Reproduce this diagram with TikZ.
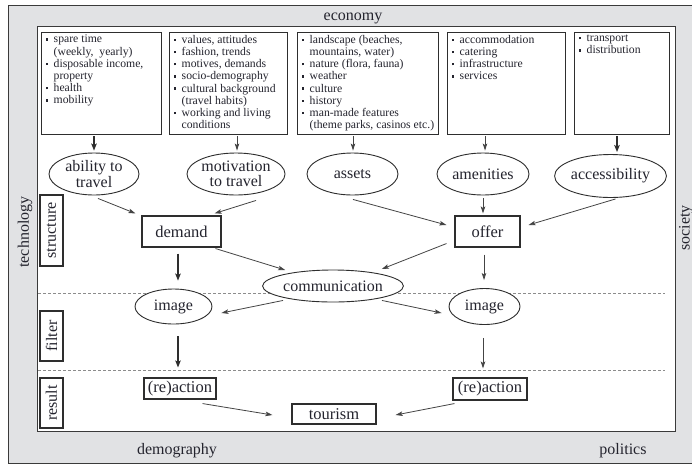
\documentclass[tikz,border=0pt]{standalone}
\usepackage{fontspec}
\usepackage{graphicx}
\setmainfont{Liberation Serif}
\usetikzlibrary{arrows.meta,shapes.geometric,calc}
\definecolor{bggray}{HTML}{E1E2E4}
\definecolor{framec}{HTML}{3A3A3A}
\definecolor{txt}{HTML}{24242E}
\definecolor{linec}{HTML}{2E2E2E}
\definecolor{arrc}{HTML}{444444}
\definecolor{dashc}{HTML}{8C8C8C}
\newcommand{\bl}{\makebox[8.5pt][l]{\hspace*{0.5pt}\raisebox{2.4pt}{\rule{2.4pt}{2.4pt}}}}
\newcommand{\cn}{\hspace*{8.5pt}}
\begin{document}
\begin{tikzpicture}[x=1pt,y=-1pt,
  every node/.style={text=txt},
  topbox/.style={rectangle, draw=linec, line width=1.3pt, fill=white, inner sep=0pt, anchor=north west, minimum height=102pt},
  listtext/.style={anchor=north west, inner sep=0pt, align=left, font=\fontsize{11.7}{12.2}\selectfont},
  ell/.style={ellipse, draw=linec, line width=0.9pt, fill=white, inner sep=0pt, align=center, font=\fontsize{16}{15.5}\selectfont},
  rbox/.style={rectangle, draw=linec, line width=1.1pt, fill=white, inner sep=0pt, font=\fontsize{16.5}{16}\selectfont},
  sidebox/.style={rectangle, draw=linec, line width=1.1pt, fill=white, inner sep=0pt, rotate=90, minimum height=23pt, font=\fontsize{16}{16}\selectfont},
  outer/.style={font=\fontsize{16}{16}\selectfont, inner sep=0pt},
  thinarr/.style={draw=arrc, line width=0.8pt, -{Stealth[length=7pt,width=4.5pt,inset=1.5pt]}},
  thickarr/.style={draw=linec, line width=2pt, -{Stealth[length=7pt,width=5.5pt,inset=1.5pt]}},
  sep/.style={draw=dashc, line width=1pt, dash pattern=on 3pt off 2pt}
]
\path[use as bounding box] (0,0) rectangle (692,464);
\draw[framec, line width=1pt, fill=bggray] (8,5) rectangle (700,463);
\draw[framec, line width=1pt, fill=white] (37,26) rectangle (675,431);

% outer labels
\node[outer] (economy) at (353,18) {economy};
\node[outer, rotate=90] (technology) at (25,232) {technology};
\node[outer, rotate=90] (society) at (686,228) {society};
\node[outer] (demography) at (177,451) {demography};
\node[outer] (politics) at (623,451) {politics};

% dashed separators
\coordinate (s1l) at (38,293);
\coordinate (s1r) at (665,293);
\coordinate (s2l) at (38,370);
\coordinate (s2r) at (665,370);
\draw[sep] (s1l) -- (s1r);
\draw[sep] (s2l) -- (s2r);

% side boxes
\node[sidebox, minimum width=71pt] (structure) at (51.5,230.5) {structure};
\node[sidebox, minimum width=50pt] (filter) at (51.5,336) {filter};
\node[sidebox, minimum width=50pt] (result) at (51.5,403) {result};

% top boxes
\node[topbox, minimum width=120pt] (b1) at (41,32) {};
\node[topbox, minimum width=118pt] (b2) at (169,32) {};
\node[topbox, minimum width=141pt] (b3) at (297,32) {};
\node[topbox, minimum width=118pt] (b4) at (447,32) {};
\node[topbox, minimum width=95pt] (b5) at (574,32) {};

\node[listtext] (t1) at ($(b1.north west)+(4,3)$) {\bl spare time\\\cn(weekly,\ \ yearly)\\\bl disposable income,\\\cn property\\\bl health\\\bl mobility};
\node[listtext] (t2) at ($(b2.north west)+(4,3)$) {\bl values, attitudes\\\bl fashion, trends\\\bl motives, demands\\\bl socio-demography\\\bl cultural background\\\cn(travel habits)\\\bl working and living\\\cn conditions};
\node[listtext] (t3) at ($(b3.north west)+(4,3)$) {\bl landscape (beaches,\\\cn mountains, water)\\\bl nature (flora, fauna)\\\bl weather\\\bl culture\\\bl history\\\bl man-made features\\\cn(theme parks, casinos etc.)};
\node[listtext] (t4) at ($(b4.north west)+(4,3)$) {\bl accommodation\\\bl catering\\\bl infrastructure\\\bl services};
\node[listtext] (t5) at ($(b5.north west)+(4,3)$) {\bl transport\\\bl distribution};

% ellipses row
\node[ell, minimum width=90pt, minimum height=42pt] (ability) at (94,174) {ability to\\travel};
\node[ell, minimum width=92pt, minimum height=42pt] (motivation) at (236,174) {motivation\\to travel};
\node[ell, minimum width=91pt, minimum height=42pt] (assets) at (352.5,174) {assets};
\node[ell, minimum width=92pt, minimum height=42pt] (amenities) at (483,174) {amenities};
\node[ell, minimum width=93pt, minimum height=43pt] (access) at (610.5,176) {accessibility};

% structure nodes
\node[rbox, minimum width=79pt, minimum height=31pt] (demand) at (181.5,231.5) {demand};
\node[rbox, minimum width=65pt, minimum height=31pt] (offer) at (487.5,231.5) {offer};
\node[ell, minimum width=132pt, minimum height=32pt] (comm) at (333,286) {communication};
\node[ell, minimum width=77pt, minimum height=35pt] (limg) at (173.5,306.5) {image};
\node[ell, minimum width=71pt, minimum height=36pt] (rimg) at (484.5,306.5) {image};

% result nodes
\node[rbox, minimum width=72pt, minimum height=21pt] (lreact) at (180,388.5) {(re)action};
\node[rbox, minimum width=74pt, minimum height=22pt] (rreact) at (490,389) {(re)action};
\node[rbox, minimum width=84pt, minimum height=20pt] (tourism) at (334,414) {tourism};

% arrows from boxes to ellipses
\draw[thickarr] ($(b1.south west)+(53,1)$) -- ($(ability.north)+(0,-2)$);
\draw[thinarr] ($(b2.south west)+(68,1)$) -- ($(motivation.north)+(1,-2)$);
\draw[thinarr] ($(b3.south west)+(56,1)$) -- ($(assets.north)+(0.5,-2)$);
\draw[thinarr] ($(b4.south west)+(38,1)$) -- ($(amenities.north)+(2,-2)$);
\draw[thickarr] ($(b5.south west)+(43,1)$) -- ($(access.north)+(6.5,-2)$);

% ellipses to demand / offer
\draw[thinarr] ($(ability.south)+(4,3)$) -- ($(demand.north west)+(-6,-2)$);
\draw[thinarr] ($(motivation.south)+(20,5)$) -- ($(demand.north east)+(-7,-2)$);
\draw[thinarr] ($(assets.south)+(0.5,4)$) -- ($(offer.west)+(-8,-6.5)$);
\draw[thinarr] ($(amenities.south)+(0,3)$) -- ($(offer.north)+(-4.5,-2)$);
\draw[thinarr] ($(access.south)+(5,1)$) -- ($(offer.east)+(8,-6.5)$);

% to communication
\draw[thinarr] ($(demand.south east)+(-6,1)$) -- ($(comm.west)+(23,-16)$);
\draw[thinarr] ($(offer.south west)+(-8,-4)$) -- ($(comm.east)+(-22,-17)$);

% vertical to images
\draw[thickarr] ($(demand.south)+(-3.5,6)$) -- ($(limg.north)+(4.5,-8)$);
\draw[thinarr] ($(offer.south)+(-3.5,7)$) -- ($(rimg.north)+(-0.5,-8)$);

% communication to images
\draw[thinarr] ($(comm.south)+(-50,-2)$) -- ($(limg.east)+(9,6.5)$);
\draw[thinarr] ($(comm.south)+(49,-2)$) -- ($(rimg.west)+(-7,6.5)$);

% images to reactions
\draw[thickarr] ($(limg.south)+(4.5,12)$) -- ($(lreact.north)+(-2,-10)$);
\draw[thinarr] ($(rimg.south)+(-1.5,13)$) -- ($(rreact.north)+(-7,-9)$);

% reactions to tourism
\draw[thinarr] ($(lreact.south east)+(-14,4)$) -- ($(tourism.west)+(-19,1)$);
\draw[thinarr] ($(rreact.south west)+(2,3)$) -- ($(tourism.east)+(19,1)$);
\end{tikzpicture}
\end{document}
